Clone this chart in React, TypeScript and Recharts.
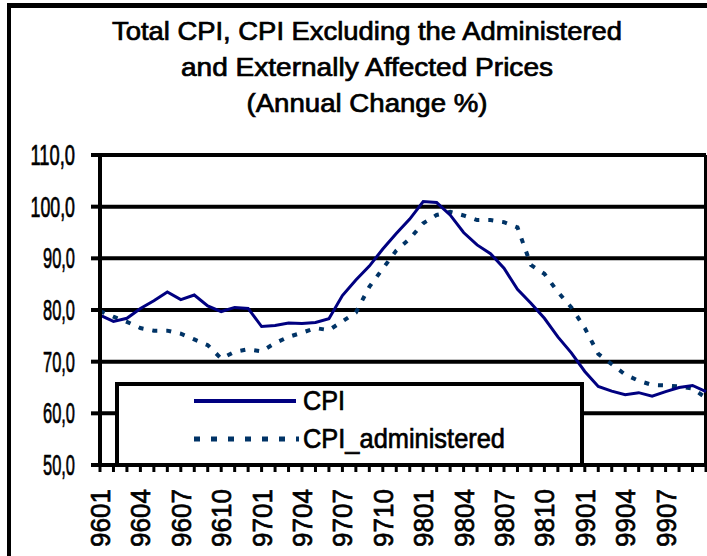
import React from "react";
import {
  LineChart,
  Line,
  XAxis,
  YAxis,
  CartesianGrid,
  ReferenceLine,
  Legend,
} from "recharts";

// months 9601 .. 9910
const months = [
  "9601", "9602", "9603", "9604", "9605", "9606", "9607", "9608", "9609", "9610", "9611", "9612",
  "9701", "9702", "9703", "9704", "9705", "9706", "9707", "9708", "9709", "9710", "9711", "9712",
  "9801", "9802", "9803", "9804", "9805", "9806", "9807", "9808", "9809", "9810", "9811", "9812",
  "9901", "9902", "9903", "9904", "9905", "9906", "9907", "9908", "9909", "9910",
];

const cpi = [
  79.0, 77.8, 78.4, 80.3, 81.8, 83.5, 82.0, 82.9, 80.8, 79.7, 80.5, 80.3,
  76.8, 77.0, 77.5, 77.4, 77.6, 78.3, 82.8, 85.8, 88.5, 91.8, 94.8, 97.6,
  101.0, 100.8, 98.4, 95.0, 92.6, 90.9, 88.1, 84.0, 81.3, 78.4, 74.8, 71.7,
  68.1, 65.2, 64.3, 63.6, 64.0, 63.3, 64.2, 65.0, 65.4, 64.2,
];

const cpiAdministered = [
  79.8, 78.7, 77.7, 76.5, 76.0, 76.0, 75.4, 74.3, 73.2, 70.6, 71.9, 72.4,
  72.0, 73.6, 74.8, 75.6, 76.5, 76.1, 77.8, 79.5, 84.5, 88.0, 91.5, 93.8,
  96.8, 98.4, 99.0, 98.3, 97.4, 97.4, 97.0, 96.0, 88.7, 87.0, 83.5, 80.5,
  76.5, 71.5, 69.5, 67.5, 66.3, 65.5, 65.4, 65.2, 64.8, 63.0,
];

const yTicks = [50, 60, 70, 80, 90, 100, 110];

// labels shown every third month; the last month sits on the cropped edge
const labelledMonths = ["9601", "9604", "9607", "9610", "9701", "9704", "9707", "9710", "9801", "9804", "9807", "9810", "9901", "9904", "9907"];

const titleLines = [
  "Total  CPI, CPI Excluding the Administered",
  "and Externally Affected Prices",
  "(Annual  Change %)",
];

const data = months.map((m, i) => ({
  month: m,
  CPI: cpi[i],
  CPI_administered: cpiAdministered[i],
}));

const FONT = "'Liberation Sans', Arial, sans-serif";
// the original text is a heavy bitmap font; a thin outline thickens ours
const heavy = { stroke: "#000", strokeWidth: 0.7 };

const YTick = ({ y, payload }: any) => {
  const label = payload.value.toFixed(1).replace(".", ",");
  const digits = label.length - 2;
  return (
    <text
      x={75}
      y={y + 10}
      textAnchor="end"
      fontFamily={FONT}
      fontSize={29}
      fill="#000"
      {...heavy}
      textLength={digits * 12.5 + 7}
      lengthAdjust="spacingAndGlyphs"
    >
      {label}
    </text>
  );
};

const XTick = ({ x, y, payload }: any) => (
  <g>
    <line x1={x} x2={x} y1={y} y2={y + 7} stroke="#000" strokeWidth={3} />
    {labelledMonths.includes(payload.value) && (
      <g transform={`translate(${x + 10},${y + 24}) rotate(-90)`}>
        <text
          x={0}
          y={0}
          textAnchor="end"
          fontFamily={FONT}
          fontSize={27}
          fill="#000"
          {...heavy}
          textLength={58}
          lengthAdjust="spacingAndGlyphs"
        >
          {payload.value}
        </text>
      </g>
    )}
  </g>
);

const legendBox = () => (
  <svg width={473} height={88} style={{ display: "block" }}>
    <rect x={4} y={4} width={465} height={81} fill="#fff" stroke="#000" strokeWidth={4} />
    <line x1={81} x2={183} y1={21} y2={21} stroke="#000080" strokeWidth={4} />
    <text x={190} y={30} fontFamily={FONT} fontSize={28} fill="#000" {...heavy} textLength={42} lengthAdjust="spacingAndGlyphs">
      CPI
    </text>
    <line x1={81} x2={186} y1={59} y2={59} stroke="#003366" strokeWidth={5} strokeDasharray="6 11" />
    <text x={190} y={68} fontFamily={FONT} fontSize={28} fill="#000" {...heavy} textLength={202} lengthAdjust="spacingAndGlyphs">
      CPI_administered
    </text>
  </svg>
);

export default function App() {
  return (
    <div
      style={{
        position: "absolute",
        left: 0,
        top: 0,
        width: 707,
        height: 556,
        overflow: "hidden",
        background: "#fff",
      }}
    >
      {/* outer frame, cropped on the right and bottom */}
      <div
        style={{
          position: "absolute",
          left: 7,
          top: 3,
          width: 760,
          height: 600,
          borderLeft: "4px solid #000",
          borderTop: "5px solid #000",
        }}
      />
      <svg width={707} height={130} style={{ position: "absolute", left: 0, top: 0 }}>
        {titleLines.map((t, i) => (
          <text
            key={i}
            x={367}
            y={40 + i * 36}
            textAnchor="middle"
            fontFamily={FONT}
            fontSize={25}
            fill="#000"
            {...heavy}
            textLength={[510, 372, 241][i]}
            lengthAdjust="spacingAndGlyphs"
          >
            {t}
          </text>
        ))}
      </svg>
      <div style={{ position: "absolute", left: 0, top: 0 }}>
        <LineChart
          width={707}
          height={556}
          data={data}
          margin={{ top: 155, right: 1, bottom: 0, left: 0 }}
        >
          <CartesianGrid vertical={false} stroke="#000" strokeWidth={4} />
          <XAxis
            dataKey="month"
            interval={0}
            height={91}
            tickSize={0}
            tickMargin={0}
            tickLine={false}
            axisLine={{ stroke: "#000", strokeWidth: 4 }}
            tick={<XTick />}
          />
          <YAxis
            width={100}
            domain={[50, 110]}
            ticks={yTicks}
            interval={0}
            tickSize={9}
            tickLine={{ stroke: "#000", strokeWidth: 4 }}
            axisLine={{ stroke: "#000", strokeWidth: 4 }}
            tick={<YTick />}
          />
          <ReferenceLine x="9910" stroke="#000" strokeWidth={4} />
          <Line
            type="linear"
            dataKey="CPI_administered"
            stroke="#003366"
            strokeWidth={4}
            strokeDasharray="5 9"
            dot={false}
            isAnimationActive={false}
          />
          <Line
            type="linear"
            dataKey="CPI"
            stroke="#000080"
            strokeWidth={3}
            dot={false}
            isAnimationActive={false}
          />
          <Legend
            layout="horizontal"
            verticalAlign="middle"
            align="center"
            content={legendBox}
            wrapperStyle={{ left: 113, top: 380, width: 473, height: 88 }}
          />
        </LineChart>
      </div>
    </div>
  );
}
